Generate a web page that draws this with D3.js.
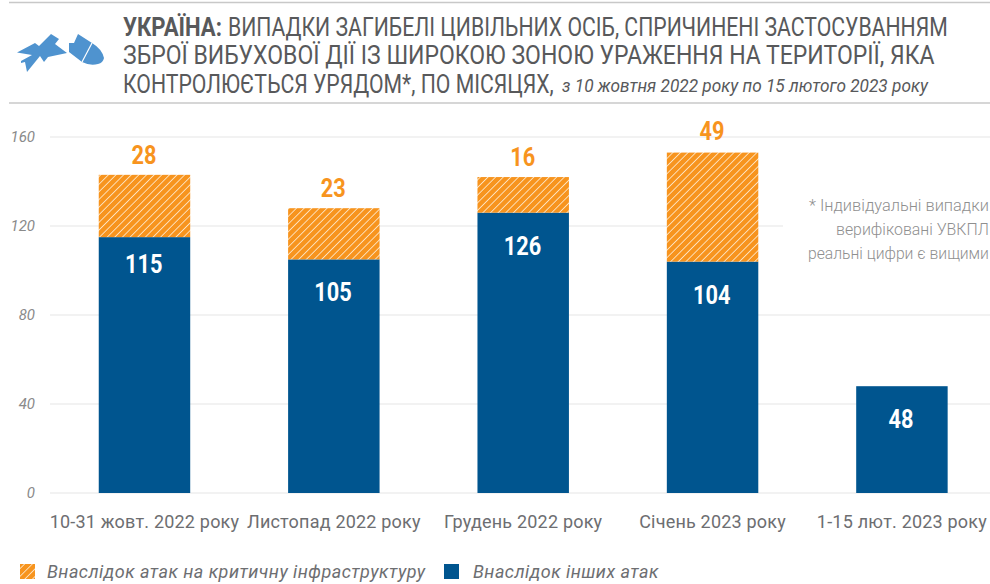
<!DOCTYPE html>
<html><head><meta charset="utf-8">
<script src="https://cdnjs.cloudflare.com/ajax/libs/d3/7.8.5/d3.min.js"></script>
<style>html,body{margin:0;padding:0;background:#fff;overflow:hidden}svg{display:block}text{font-family:Roboto,sans-serif}</style>
</head><body><svg id="c" width="990" height="584"></svg>
<script>
const categories=["10-31 жовт. 2022 року","Листопад 2022 року","Грудень 2022 року","Січень 2023 року","1-15 лют. 2023 року"];
const otherAttacks=[115,105,126,104,48];
const infrastructure=[28,23,16,49,0];
const yTicks=[0,40,80,120,160];
const titleBold="УКРАЇНА:";
const titleLines=["ВИПАДКИ ЗАГИБЕЛІ ЦИВІЛЬНИХ ОСІБ, СПРИЧИНЕНІ ЗАСТОСУВАННЯМ","ЗБРОЇ ВИБУХОВОЇ ДІЇ ІЗ ШИРОКОЮ ЗОНОЮ УРАЖЕННЯ НА ТЕРИТОРІЇ, ЯКА","КОНТРОЛЮЄТЬСЯ УРЯДОМ*, ПО МІСЯЦЯХ,"];
const titleSub="з 10 жовтня 2022 року по 15 лютого 2023 року";
const noteLines=["* Індивідуальні випадки","верифіковані УВКПЛ","реальні цифри є вищими"];
const legendLabels=["Внаслідок атак на критичну інфраструктуру","Внаслідок інших атак"];

const svg=d3.select("#c");
const ORANGE="#f7941e",BLUE="#00558f",GREY="#58595b";
const defs=svg.append("defs");
const p=defs.append("pattern").attr("id","hatch").attr("patternUnits","userSpaceOnUse").attr("width",5.4).attr("height",5.4).attr("patternTransform","rotate(45)");
p.append("rect").attr("width",5.4).attr("height",5.4).attr("fill",ORANGE);
p.append("rect").attr("width",0.9).attr("height",5.4).attr("fill","#fde3c0");

const x=d3.scaleBand().domain(categories).range([49.8,996.6]).paddingInner(0.517).paddingOuter(0.2585);
const y=d3.scaleLinear().domain([0,160]).range([493,137]);
const cx=d=>x(d)+x.bandwidth()/2;
const idx=d=>categories.indexOf(d);
const shown=categories.filter((d,i)=>infrastructure[i]>0);

// squeeze a text horizontally to a target width, anchored at its left edge or centre
function fit(sel,x0,y0,w,centre){
  const n=sel.node(),len=n.getComputedTextLength(),k=w/len;
  sel.attr("text-anchor",centre?"middle":"start").attr("x",0).attr("y",0)
     .attr("transform",`translate(${x0},${y0}) scale(${k},1)`);
  return sel;
}

svg.selectAll("line.rule").data([2.5,103]).join("line").attr("class","rule")
 .attr("x1",9).attr("x2",990).attr("y1",d=>d).attr("y2",d=>d).attr("stroke","#c8c8c8").attr("stroke-width",1.5);

const yAxis=d3.axisLeft(y).tickValues(yTicks).tickSize(0).tickPadding(15);
const gy=svg.append("g").attr("transform","translate(50,0)").call(yAxis);
gy.select(".domain").remove();
gy.selectAll("text").attr("font-size",15).attr("font-style","italic").attr("fill","#8a8a8a").attr("text-anchor","end");
gy.selectAll("line.grid").data(yTicks).join("line").attr("class","grid").attr("x1",0)
 .attr("x2",d=>d===120?733:940).attr("y1",d=>y(d)).attr("y2",d=>y(d)).attr("stroke","#e6e6e6").attr("stroke-width",1.2);

const g=svg.append("g");
g.selectAll("rect.o").data(categories).join("rect").attr("class","o").attr("x",d=>x(d)).attr("width",x.bandwidth())
 .attr("y",(d,i)=>y(otherAttacks[i])).attr("height",(d,i)=>y(0)-y(otherAttacks[i])).attr("fill",BLUE);
g.selectAll("rect.i").data(shown).join("rect").attr("class","i").attr("x",d=>x(d)).attr("width",x.bandwidth())
 .attr("y",d=>y(otherAttacks[idx(d)]+infrastructure[idx(d)]))
 .attr("height",d=>y(otherAttacks[idx(d)])-y(otherAttacks[idx(d)]+infrastructure[idx(d)])).attr("fill","url(#hatch)");

const tl=n=>String(n).length*12.5;
g.selectAll("text.vo").data(categories).join("text").attr("class","vo")
 .attr("font-size",25).attr("font-weight",700).attr("fill","#fff").text((d,i)=>otherAttacks[i])
 .each(function(d,i){fit(d3.select(this),cx(d)-0.8,y(otherAttacks[i])+(i===0?36:42),tl(otherAttacks[i]),true);});
g.selectAll("text.vi").data(shown).join("text").attr("class","vi")
 .attr("font-size",25).attr("font-weight",700).attr("fill",ORANGE).text(d=>infrastructure[idx(d)])
 .each(function(d){const i=idx(d);fit(d3.select(this),cx(d)-0.5,y(otherAttacks[i]+infrastructure[i])-(infrastructure[i]===49?13:11),tl(infrastructure[i]),true);});

const xa=d3.axisBottom(x).tickSize(0).tickPadding(22);
const gx=svg.append("g").attr("transform","translate(0,493)").call(xa);
gx.select(".domain").remove();
gx.selectAll("text").attr("font-size",18).attr("letter-spacing",0.2).attr("fill","#6d6e71");

// title
const t=svg.append("g").attr("fill",GREY).attr("font-size",26);
const tt=(s,x0,yy,w,bold)=>fit(t.append("text").attr("font-weight",bold?700:400).text(s),x0,yy,w);
tt(titleBold,123,35.5,99,true);
tt(titleLines[0],228,35.5,720);
tt(titleLines[1],123,64,812);
tt(titleLines[2],123,93,431);
fit(t.append("text").attr("font-size",18).attr("font-style","italic").text(titleSub),562,92,366);

// icon
const icon=svg.append("g").attr("fill","#4f93cf");
icon.append("path").attr("d","M17 52.5 L35 43 L39 46 L51 34 L59 39 L55 44 L67 53 L48 57 L44 62 L40 56 L27 72 L25 62 L21 63 L21 61 L32 55 Z");
icon.append("path").attr("d","M69 43 L74 43 L78 34 L92 43 Q102 49 104 58 Q103 63 98 64 Q90 66 82 62 L69 52 Z");
icon.append("line").attr("x1",82).attr("y1",62).attr("x2",92).attr("y2",43).attr("stroke","#fff").attr("stroke-width",1.2);

// note
const noteX=[809,836,808];
svg.append("g").selectAll("text").data(noteLines).join("text")
 .attr("font-size",16.5).attr("font-weight",300).attr("fill","#8f8f8f").text(d=>d)
 .each(function(d,i){fit(d3.select(this),noteX[i],211+i*24,989-noteX[i]);});

// legend
const ls=[{x:20,tx:47,f:"url(#hatch)"},{x:444,tx:473,f:BLUE}];
svg.append("g").selectAll("rect").data(ls).join("rect").attr("x",d=>d.x).attr("y",564).attr("width",15).attr("height",15).attr("fill",d=>d.f);
svg.append("g").selectAll("text").data(legendLabels).join("text").attr("x",(d,i)=>ls[i].tx).attr("y",578)
 .attr("font-size",18).attr("font-style","italic").attr("letter-spacing",0.47).attr("fill","#6d6e71").text(d=>d);
</script></body></html>
